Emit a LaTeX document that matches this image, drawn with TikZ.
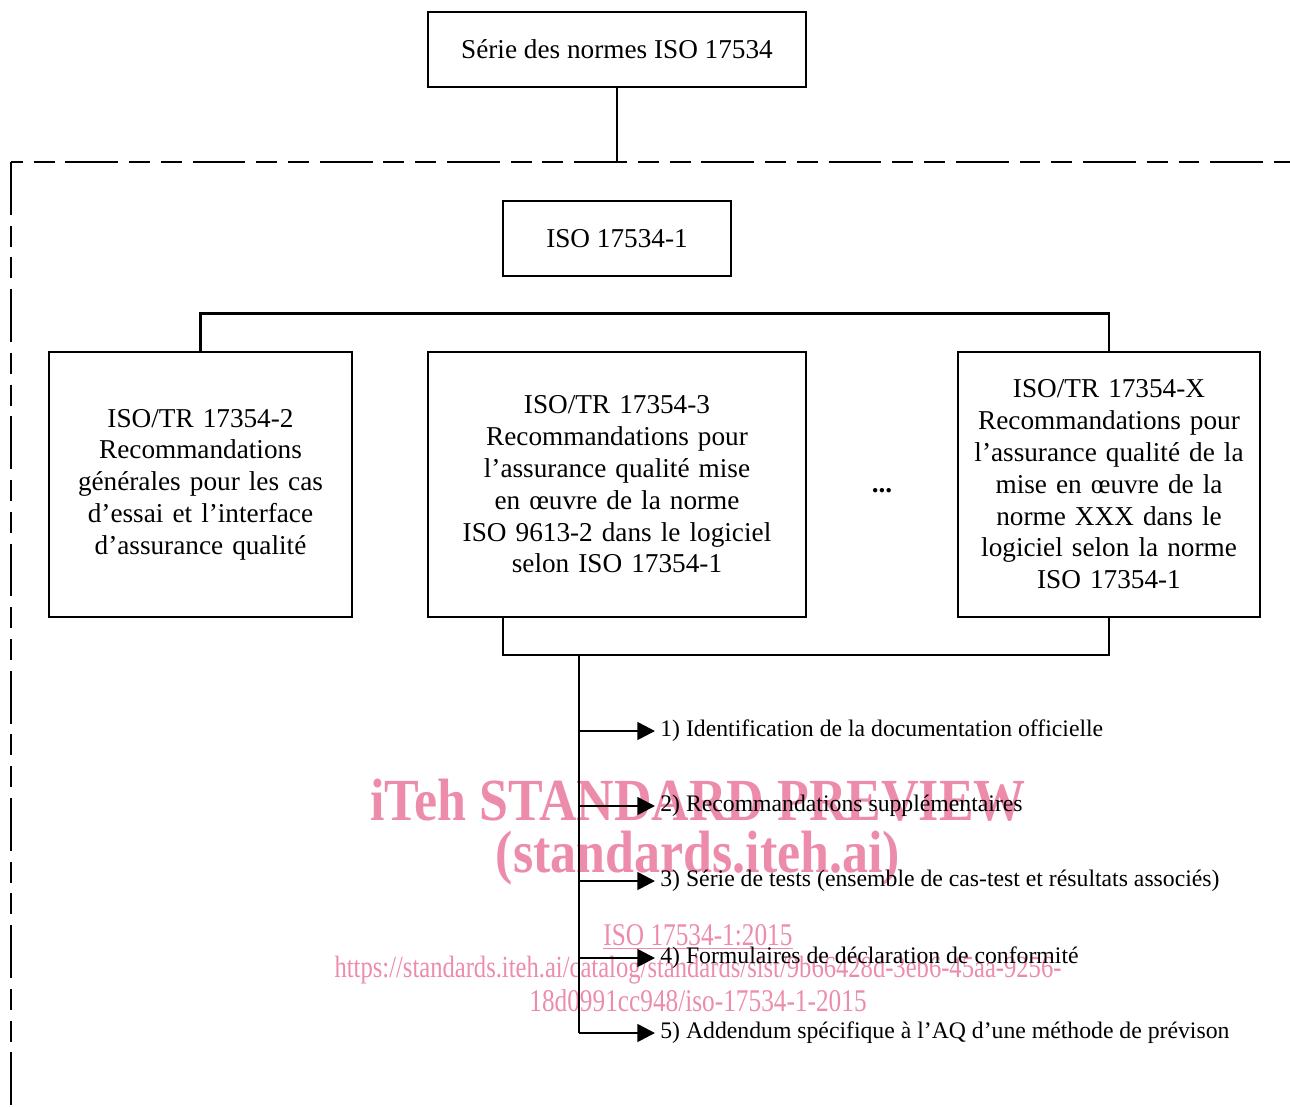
\documentclass[tikz,border=0pt]{standalone}
\usepackage{fontspec}
\setmainfont{Liberation Serif}
\newfontfamily\wmfont[FakeStretch=0.87]{Liberation Serif}
\newfontfamily\wmurlfont[FakeStretch=0.8]{Liberation Serif}
\usetikzlibrary{arrows.meta, positioning}
\definecolor{wmpink}{RGB}{236,140,170}

\begin{document}
\begin{tikzpicture}[
  x=0.02cm, y=-0.02cm,
  every node/.style={font=\fontsize{15.5}{18.1}\selectfont},
  hdr/.style={rectangle, draw, line width=1.1pt, minimum width=#1, minimum height=1.5cm, inner sep=0pt},
  doc/.style={rectangle, draw, line width=1.5pt, text width=#1, align=center, minimum height=5.3cm, inner sep=0pt},
  wire/.style={line width=1.5pt},
  arr/.style={-{Triangle[length=10pt, width=10pt]}, line width=1.5pt},
  item/.style={anchor=west, inner xsep=0.1cm, inner ysep=0pt, font=\fontsize{13.5}{16}\selectfont},
  frame/.style={line width=1.5pt, dash pattern=on 30pt off 6.2pt on 11.9pt off 6.2pt on 11.9pt off 6.2pt},
  wm/.style={text=wmpink, inner sep=0pt},
]

\useasboundingbox (0,0) rectangle (1290,1106);

% Filigrane (sous le schéma)
\node[wm, font=\wmfont\fontsize{34}{34}\selectfont\bfseries] (wm1) at (698,800) {iTeh STANDARD PREVIEW};
\node[wm, font=\wmfont\fontsize{34}{34}\selectfont\bfseries] (wm2) at (698,858) {(standards.iteh.ai)};
\node[wm, font=\wmurlfont\fontsize{18}{18}\selectfont] (wm3) at (698,937) {\underline{ISO 17534-1:2015}};
\node[wm, font=\wmurlfont\fontsize{17.5}{17.5}\selectfont] (wm4) at (698,970)
  {https://standards.iteh.ai/catalog/standards/sist/9b66428d-3eb6-45aa-9256-};
\node[wm, font=\wmurlfont\fontsize{18}{18}\selectfont] (wm5) at (698,1001) {18d0991cc948/iso-17534-1-2015};

% Série et norme principale
\node[hdr=7.56cm] (serie) at (617,49.5) {Série des normes ISO 17534};
\coordinate (frameTop) at (617,162);
\coordinate (corner) at (11,162);
\node[hdr=4.56cm] (iso1) at (617,238.5) {ISO 17534-1};

% Cadre en pointillés
\draw[frame, dash phase=41.4pt] (corner) -- (1290,162);
\draw[frame] (corner) -- (11,1106);
\draw[wire] (serie) -- (frameTop);

% Rapports techniques
\node[doc=6.06cm] (tr2) at (200.5,484.5)
  {ISO/TR 17354-2\\Recommandations\\générales pour les cas\\d’essai et l’interface\\d’assurance qualité};
\node[doc=7.56cm] (tr3) at (617,484.5)
  {ISO/TR 17354-3\\Recommandations pour\\l’assurance qualité mise\\en œuvre de la norme\\ISO 9613-2 dans le logiciel\\selon ISO 17354-1};
\node (dots) at (882,491) {\textbf{...}};
\node[doc=6.04cm] (trX) at (1109,484.5)
  {ISO/TR 17354-X\\Recommandations pour\\l’assurance qualité de la\\mise en œuvre de la\\norme XXX dans le\\logiciel selon la norme\\ISO 17354-1};

\draw[wire] (tr2.north) -- ++(0,-37) -| (trX.north);

% Bus sous les rapports
\coordinate (busL) at (503,655);
\coordinate (trunk) at (579,655);
\draw[wire] (busL |- tr3.south) -- (busL) -| (trX.south);

% Contenu de chaque rapport
\node[item] (it1) at (655,731) {1) Identification de la documentation officielle};
\node[item] (it2) at (655,806) {2) Recommandations supplémentaires};
\node[item] (it3) at (655,881) {3) Série de tests (ensemble de cas-test et résultats associés)};
\node[item] (it4) at (655,958) {4) Formulaires de déclaration de conformité};
\node[item] (it5) at (655,1033) {5) Addendum spécifique à l’AQ d’une méthode de prévison};

\draw[wire] (trunk) -- (trunk |- it5.west);
\foreach \i in {1,...,5}
  \draw[arr] (trunk |- it\i.west) -- (it\i.west);

\end{tikzpicture}
\end{document}
